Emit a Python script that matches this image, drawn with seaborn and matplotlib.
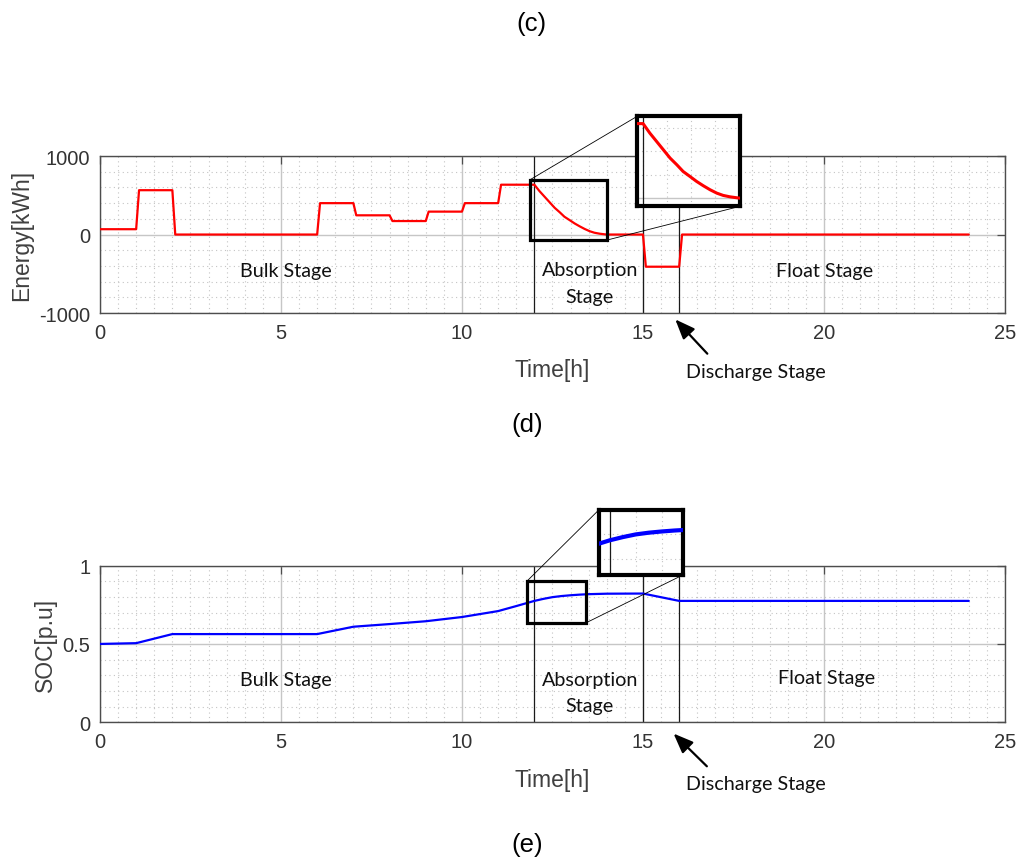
import matplotlib
matplotlib.use("Agg")
import matplotlib.pyplot as plt
import numpy as np
import pandas as pd
import seaborn as sns
from matplotlib.patches import Rectangle, ConnectionPatch
from matplotlib.ticker import MultipleLocator

# ---- data -------------------------------------------------------------
energy_time = [0.0, 1.0, 1.08, 2.0, 2.08, 6.0, 6.08, 7.0, 7.08, 8.0, 8.08,
               9.0, 9.08, 10.0, 10.08, 11.0, 11.08,
               12.00, 12.14, 12.28, 12.42, 12.56, 12.70, 12.83, 12.97,
               13.11, 13.25, 13.39, 13.53, 13.66, 13.80, 13.94,
               14.00, 15.0, 15.08, 16.0, 16.08, 24.0]
energy_kwh = [68, 68, 565, 565, 0, 0, 400, 400, 245, 245, 172,
              172, 292, 292, 400, 400, 635,
              635, 554, 483, 412, 341, 284, 227, 185,
              142, 105, 71, 42, 23, 11, 3,
              0, 0, -410, -410, 0, 0]

soc_time = [0, 1, 2, 6, 7, 8, 9, 10, 11, 11.5, 12, 12.25, 12.5, 12.75,
            13, 13.25, 13.5, 14, 15, 16, 24]
soc_pu = [0.500, 0.505, 0.563, 0.563, 0.610, 0.627, 0.645, 0.672, 0.710,
          0.742, 0.775, 0.788, 0.799, 0.806, 0.811, 0.815, 0.818, 0.821,
          0.822, 0.775, 0.775]

stage_bounds = [12, 15, 16]
x_ticks = [0, 5, 10, 15, 20, 25]
energy_ticks = [-1000, 0, 1000]
soc_ticks = [0, 0.5, 1]
soc_tick_labels = ["0", "0.5", "1"]

energy_zoom_x = (11.88, 14.01)
energy_zoom_y = (-70, 698)
soc_zoom_x = (11.79, 13.42)
soc_zoom_y = (0.634, 0.900)

energy_df = pd.DataFrame({"Time": energy_time, "Energy": energy_kwh})
soc_df = pd.DataFrame({"Time": soc_time, "SOC": soc_pu})

# ---- style ------------------------------------------------------------
sns.set_theme(style="white")
plt.rcParams["font.family"] = ["Liberation Sans", "DejaVu Sans"]
plt.rcParams["axes.unicode_minus"] = False
STAGE_FONT = ["Lato", "DejaVu Sans"]
STAGE_SIZE = 14.2
AX_COLOR = "#4d4d4d"
TXT_COLOR = "#333333"


def dress(ax, y_major, y_minor, show_labels=True):
    ax.xaxis.set_major_locator(MultipleLocator(5))
    ax.xaxis.set_minor_locator(MultipleLocator(0.5))
    ax.yaxis.set_major_locator(MultipleLocator(y_major))
    ax.yaxis.set_minor_locator(MultipleLocator(y_minor))
    ax.grid(which="major", color="#c6c6c6", lw=1.0, ls="-")
    ax.grid(which="minor", color="#c4c4c4", lw=0.8, ls=(0, (1, 3)))
    ax.set_axisbelow(True)
    ax.tick_params(which="major", direction="in", length=6, width=0.9,
                   top=True, right=True, colors=AX_COLOR,
                   labelcolor=TXT_COLOR, labelsize=14.5, pad=7)
    ax.tick_params(which="minor", length=0)
    for s in ax.spines.values():
        s.set_color(AX_COLOR)
        s.set_linewidth(1.0)
    if not show_labels:
        ax.set_xticklabels([])
        ax.set_yticklabels([])
        ax.tick_params(which="major", length=0)


fig = plt.figure(figsize=(10.21, 8.62), dpi=100)
ax1 = fig.add_axes([0.0979, 0.6357, 0.8864, 0.1821])
ax2 = fig.add_axes([0.0979, 0.1610, 0.8864, 0.1816])

# ---- energy panel -----------------------------------------------------
sns.lineplot(data=energy_df, x="Time", y="Energy", ax=ax1, color="#ff0000",
             lw=1.6, estimator=None, sort=False, legend=False, zorder=3)
for b in stage_bounds:
    ax1.axvline(b, color="#1a1a1a", lw=0.9, zorder=2)
ax1.set_xlim(0, 25)
ax1.set_ylim(-1000, 1000)
dress(ax1, 1000, 200)
ax1.set_xticks(x_ticks)
ax1.set_yticks(energy_ticks)
ax1.set_xlabel("Time[h]", fontsize=16.5, color="#404040", labelpad=12)
ax1.set_ylabel("Energy[kWh]", fontsize=16.5, color="#404040", labelpad=4)

ax1.text(5.14, -452, "Bulk Stage", ha="center", va="center",
         fontsize=STAGE_SIZE, family=STAGE_FONT, color="#111111")
ax1.text(13.53, -618, "Absorption\nStage", ha="center", va="center",
         fontsize=STAGE_SIZE, family=STAGE_FONT, color="#111111",
         linespacing=1.65)
ax1.text(20.03, -461, "Float Stage", ha="center", va="center",
         fontsize=STAGE_SIZE, family=STAGE_FONT, color="#111111")
ax1.annotate("", xy=(15.84, -1055), xytext=(16.83, -1544),
             xycoords="data", annotation_clip=False,
             arrowprops=dict(arrowstyle="-|>,head_length=1.0,head_width=0.4",
                             color="black", lw=1.6))
ax1.text(18.12, -1748, "Discharge Stage", ha="center", va="center",
         fontsize=STAGE_SIZE, family=STAGE_FONT, color="#111111",
         clip_on=False)

# ---- SOC panel --------------------------------------------------------
sns.lineplot(data=soc_df, x="Time", y="SOC", ax=ax2, color="#0000ff",
             lw=1.6, estimator=None, sort=False, legend=False, zorder=3)
for b in stage_bounds:
    ax2.axvline(b, color="#1a1a1a", lw=0.9, zorder=2)
ax2.set_xlim(0, 25)
ax2.set_ylim(0, 1)
dress(ax2, 0.5, 0.1)
ax2.set_xticks(x_ticks)
ax2.set_yticks(soc_ticks)
ax2.set_yticklabels(soc_tick_labels)
ax2.set_xlabel("Time[h]", fontsize=16.5, color="#404040", labelpad=12)
ax2.set_ylabel("SOC[p.u]", fontsize=16.5, color="#404040", labelpad=4)

ax2.text(5.14, 0.276, "Bulk Stage", ha="center", va="center",
         fontsize=STAGE_SIZE, family=STAGE_FONT, color="#111111")
ax2.text(13.53, 0.191, "Absorption\nStage", ha="center", va="center",
         fontsize=STAGE_SIZE, family=STAGE_FONT, color="#111111",
         linespacing=1.65)
ax2.text(20.08, 0.283, "Float Stage", ha="center", va="center",
         fontsize=STAGE_SIZE, family=STAGE_FONT, color="#111111")
ax2.annotate("", xy=(15.79, -0.060), xytext=(16.82, -0.294),
             xycoords="data", annotation_clip=False,
             arrowprops=dict(arrowstyle="-|>,head_length=1.0,head_width=0.4",
                             color="black", lw=1.6))
ax2.text(18.11, -0.394, "Discharge Stage", ha="center", va="center",
         fontsize=STAGE_SIZE, family=STAGE_FONT, color="#111111",
         clip_on=False)


# ---- zoomed insets ----------------------------------------------------
def zoom_inset(ax, rect, xr, yr, df, ycol, color, lw, y_major, y_minor):
    ins = fig.add_axes(rect, zorder=5)
    ins.set_facecolor("white")
    sns.lineplot(data=df, x="Time", y=ycol, ax=ins, color=color, lw=lw,
                 estimator=None, sort=False, legend=False, zorder=3)
    for b in stage_bounds:
        ins.axvline(b, color="#1a1a1a", lw=0.9, zorder=2)
    ins.set_xlim(*xr)
    ins.set_ylim(*yr)
    ins.set_xlabel("")
    ins.set_ylabel("")
    dress(ins, y_major, y_minor, show_labels=False)
    for s in ins.spines.values():
        s.set_color("black")
        s.set_linewidth(3.0)
    ax.add_patch(Rectangle((xr[0], yr[0]), xr[1] - xr[0], yr[1] - yr[0],
                           fill=False, ec="black", lw=2.3, zorder=6,
                           clip_on=False))
    for a, b in [((xr[0], yr[1]), (0, 1)), ((xr[1], yr[0]), (1, 0))]:
        con = ConnectionPatch(xyA=a, coordsA=ax.transData, xyB=b,
                              coordsB=ins.transAxes, color="black", lw=0.6)
        fig.add_artist(con)
    return ins


zoom_inset(ax1, [0.6242, 0.7595, 0.1006, 0.1045], energy_zoom_x,
           energy_zoom_y, energy_df, "Energy", "#ff0000", 2.2, 1000, 200)
zoom_inset(ax2, [0.5867, 0.3321, 0.0826, 0.0754], soc_zoom_x,
           soc_zoom_y, soc_df, "SOC", "#0000ff", 3.0, 0.5, 0.1)

# ---- panel captions ---------------------------------------------------
fig.text(0.5208, 0.9718, "(c)", ha="center", va="center", fontsize=18.5,
         color="black")
fig.text(0.5162, 0.5070, "(d)", ha="center", va="center", fontsize=18.5,
         color="black")
fig.text(0.5167, 0.0197, "(e)", ha="center", va="center", fontsize=18.5,
         color="black")

fig.savefig("out.png", dpi=100, facecolor="white")
